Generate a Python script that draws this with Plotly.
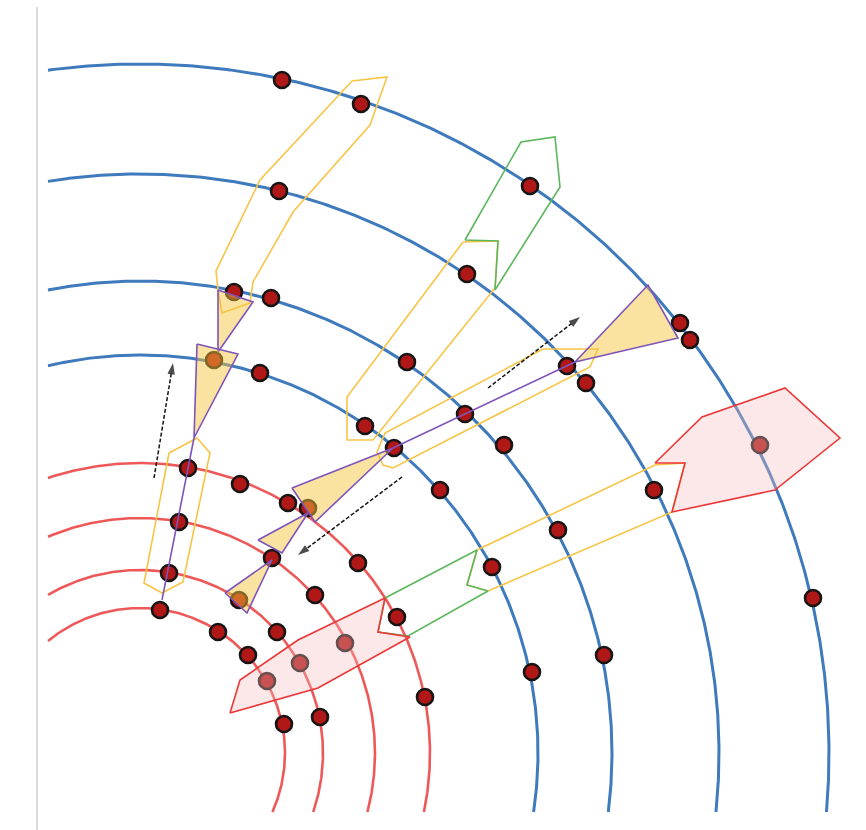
import numpy as np
import plotly.graph_objects as go

# Detector layers (radii, same units as the hit coordinates)
inner_radii = [145, 183, 235, 290]
outer_radii = [398, 472, 579, 689]

# Hits: x, y positions
hit_x = [142, 221, 390, 139, 327, 94, 131, 540, 550, 74, 120, 267, 427, 446,
         225, 325, 254, 364, 300, 514, 620, 48, 100, 148, 168, 39, 418, 132,
         218, 29, 352, 175, 99, 20, 257, 673, 78, 137, 205, 108, 160, 464,
         392, 127, 285, 180, 144]
hit_y = [673, 649, 567, 562, 479, 461, 455, 430, 413, 393, 380, 391, 387, 370,
         327, 339, 305, 308, 263, 263, 308, 285, 269, 250, 245, 231, 223, 195,
         190, 180, 186, 158, 153, 143, 136, 155, 121, 121, 110, 98, 90, 98,
         81, 72, 56, 36, 29]

# Road outlines (x list, y list)
yellow_roads = [
    ([212, 247, 230, 153, 113, 110, 82, 78, 76, 120],
     [672, 676, 628, 541, 471, 450, 440, 463, 482, 573]),
    ([29, 57, 70, 43, 22, 4],
     [300, 315, 300, 171, 160, 170]),
    ([323, 358, 355, 233, 207, 207],
     [511, 512, 465, 313, 313, 356]),
    ([403, 458, 450, 253, 243, 237, 245],
     [404, 404, 386, 285, 288, 301, 320]),
    ([337, 515, 545, 532, 348, 327],
     [203, 288, 290, 241, 162, 168]),
]
green_roads = [
    ([325, 381, 415, 420, 355, 358],
     [513, 611, 616, 566, 463, 512]),
    ([245, 337, 327, 348, 268, 238],
     [155, 203, 168, 162, 117, 121]),
]
pink_roads = [
    ([515, 562, 645, 700, 635, 532, 545],
     [290, 336, 365, 315, 263, 241, 290]),
    ([90, 100, 158, 245, 238, 270, 178],
     [40, 73, 113, 155, 121, 116, 65]),
]

# Seed triangles
seed_triangles = [
    ([78, 113, 78], [463, 451, 401]),
    ([57, 98, 54], [409, 399, 315]),
    ([152, 253, 175], [265, 305, 231]),
    ([118, 168, 142], [213, 240, 200]),
    ([85, 132, 107], [160, 193, 140]),
    ([435, 508, 538], [391, 468, 415]),
]
# Track segments joining seeds
track_segments = [
    ([54, 22], [315, 153]),
    ([253, 435], [305, 391]),
]
# Propagation direction arrows (tail -> head)
arrows = [
    ([14, 33], [275, 390]),
    ([348, 440], [365, 436]),
    ([262, 158], [276, 198]),
]

X_MIN, X_MAX = -140, 726
Y_MIN, Y_MAX = -77, 753
ARC_X_MIN, ARC_Y_MIN = -92, -59

BLUE = "rgb(62,122,188)"
RED = "rgb(238,88,88)"
YELLOW = "rgb(248,196,70)"
GREEN = "rgb(92,182,92)"
PURPLE = "rgb(126,84,186)"

fig = go.Figure()


def closed(xs, ys):
    return list(xs) + [xs[0]], list(ys) + [ys[0]]


# Layers
for radii, color, width in ((inner_radii, RED, 2.6), (outer_radii, BLUE, 3.0)):
    for r in radii:
        a0 = np.arcsin(ARC_Y_MIN / r)
        a1 = np.arccos(ARC_X_MIN / r)
        t = np.linspace(a0, a1, 400)
        fig.add_trace(go.Scatter(x=r * np.cos(t), y=r * np.sin(t), mode="lines",
                                 line=dict(color=color, width=width),
                                 hoverinfo="skip", showlegend=False))

# Road outlines
for xs, ys in yellow_roads:
    cx, cy = closed(xs, ys)
    fig.add_trace(go.Scatter(x=cx, y=cy, mode="lines",
                             line=dict(color=YELLOW, width=1.6),
                             hoverinfo="skip", showlegend=False))
for xs, ys in green_roads:
    cx, cy = closed(xs, ys)
    fig.add_trace(go.Scatter(x=cx, y=cy, mode="lines",
                             line=dict(color=GREEN, width=1.6),
                             hoverinfo="skip", showlegend=False))

# Hits
fig.add_trace(go.Scatter(x=hit_x, y=hit_y, mode="markers",
                         marker=dict(size=16, color="rgb(176,24,24)",
                                     line=dict(color="rgb(25,20,20)", width=2.6)),
                         hoverinfo="skip", showlegend=False))

# Track segments
for xs, ys in track_segments:
    fig.add_trace(go.Scatter(x=xs, y=ys, mode="lines",
                             line=dict(color=PURPLE, width=1.6),
                             hoverinfo="skip", showlegend=False))

# Seed triangles
for xs, ys in seed_triangles:
    cx, cy = closed(xs, ys)
    fig.add_trace(go.Scatter(x=cx, y=cy, mode="lines", fill="toself",
                             fillcolor="rgba(245,195,57,0.48)",
                             line=dict(color=PURPLE, width=1.6),
                             hoverinfo="skip", showlegend=False))

# Pink roads
for xs, ys in pink_roads:
    cx, cy = closed(xs, ys)
    fig.add_trace(go.Scatter(x=cx, y=cy, mode="lines", fill="toself",
                             fillcolor="rgba(245,190,190,0.35)",
                             line=dict(color="rgb(235,55,55)", width=1.6),
                             hoverinfo="skip", showlegend=False))

# Direction arrows
for xs, ys in arrows:
    fig.add_trace(go.Scatter(x=xs, y=ys, mode="lines+markers",
                             line=dict(color="rgb(20,20,20)", width=1.5, dash="4px,2px"),
                             marker=dict(symbol="arrow", size=[0, 12], color="black",
                                         angleref="previous", line=dict(width=0)),
                             hoverinfo="skip", showlegend=False))

# Left frame line
fig.add_trace(go.Scatter(x=[-103, -103], y=[746, Y_MIN], mode="lines",
                         line=dict(color="rgb(200,200,200)", width=1.3),
                         hoverinfo="skip", showlegend=False))

fig.update_layout(
    width=866, height=830,
    margin=dict(l=0, r=0, t=0, b=0),
    paper_bgcolor="white", plot_bgcolor="white",
    xaxis=dict(range=[X_MIN, X_MAX], visible=False, fixedrange=True),
    yaxis=dict(range=[Y_MIN, Y_MAX], visible=False, fixedrange=True),
    showlegend=False,
)

fig.write_html("out.html", config={"displayModeBar": False})
